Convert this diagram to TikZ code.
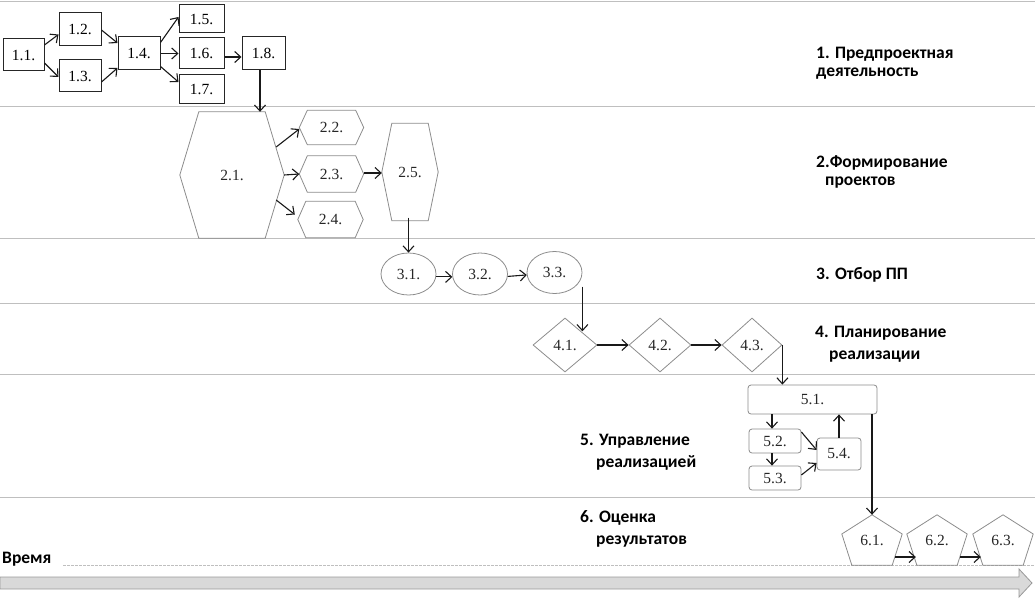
\documentclass[tikz,border=0pt]{standalone}
\usepackage{fontspec}
\setmainfont{Liberation Serif}
\newfontfamily\labfont{Carlito}
\usetikzlibrary{shapes.geometric,arrows.meta,calc}
\newcommand\hexout[2]{\draw[shpline] (#1.west) -- ([xshift=#2]#1.north west) -- ([xshift=-#2]#1.north east) -- (#1.east) -- ([xshift=-#2]#1.south east) -- ([xshift=#2]#1.south west) -- cycle;}
\newcommand\pentout[1]{\draw[shpline] (#1.north) -- ([yshift=6pt]#1.east) -- ([xshift=-10pt]#1.south east) -- ([xshift=10pt]#1.south west) -- ([yshift=6pt]#1.west) -- cycle;}
\begin{document}
\begin{tikzpicture}[x=1pt,y=-1pt,
  font=\fontsize{15.5}{17}\selectfont,
  arr/.style={draw=black!90, line width=1.1pt, -{Straight Barb[length=6pt,width=11pt]}},
  sepline/.style={draw=black!25, line width=0.8pt},
  shpline/.style={draw=black!45, line width=0.8pt},
  boxA/.style={draw=black!85, line width=1pt, inner sep=0pt, text=black},
  hexa/.style={inner sep=0pt, text=black!85},
  ell/.style={ellipse, shpline, inner sep=0pt, minimum width=55pt, minimum height=42pt, text=black!85},
  dia/.style={diamond, shpline, inner sep=0pt, minimum width=62pt, minimum height=54pt, text=black!85},
  rbox/.style={rectangle, rounded corners=3pt, shpline, inner sep=0pt, text=black!85},
  pent/.style={inner sep=0pt, minimum width=60pt, minimum height=50pt, text=black!85},
  lab/.style={font=\labfont\bfseries\fontsize{17.5}{20}\selectfont, anchor=base west, inner sep=0pt, text=black}]
\useasboundingbox (0,0) rectangle (1035,599);

% separators
\draw[sepline] (0,1) -- (1035,1);
\draw[sepline] (0,106) -- (1035,106);
\draw[sepline] (0,238) -- (1035,238);
\draw[sepline] (0,303) -- (1035,303);
\draw[sepline] (0,374) -- (1035,374);
\draw[sepline] (0,497) -- (1035,497);
\draw[sepline, dashed, dash pattern=on 3pt off 1pt, line width=0.6pt] (63,565) -- (1035,565);

% time arrow
\draw[draw=black!40, fill=black!15, line width=0.8pt] (0,577) -- (1019,577) -- (1019,569) -- (1032,583) -- (1019,597) -- (1019,589) -- (0,589) -- cycle;

% lane labels
\node[lab] (L1a) at (816,59) {1. Предпроектная};
\node[lab] (L1b) at (816,77) {деятельность};
\node[lab] (L2a) at (816,167) {2.Формирование};
\node[lab] (L2b) at (825,185) {проектов};
\node[lab] (L3) at (816,279) {3. Отбор ПП};
\node[lab] (L4a) at (815,337) {4. Планирование};
\node[lab] (L4b) at (829,359) {реализации};
\node[lab] (L5a) at (580,445) {5. Управление};
\node[lab] (L5b) at (596,467) {реализацией};
\node[lab] (L6a) at (580,522) {6. Оценка};
\node[lab] (L6b) at (596,544) {результатов};
\node[lab] (LT) at (2,563) {Время};

% row 1
\node[boxA, minimum width=41pt, minimum height=32pt] (n11) at (23.5,55) {1.1.};
\node[boxA, minimum width=42pt, minimum height=33pt] (n12) at (80,29.5) {1.2.};
\node[boxA, minimum width=42pt, minimum height=32pt] (n13) at (80,76) {1.3.};
\node[boxA, minimum width=42pt, minimum height=33pt] (n14) at (139,53.5) {1.4.};
\node[boxA, minimum width=45pt, minimum height=28pt] (n15) at (201.5,19) {1.5.};
\node[boxA, minimum width=45pt, minimum height=31pt] (n16) at (201.5,53.5) {1.6.};
\node[boxA, minimum width=45pt, minimum height=29pt] (n17) at (201.5,89.5) {1.7.};
\node[boxA, minimum width=43pt, minimum height=33pt] (n18) at (263.5,53.5) {1.8.};

% row 2
\node[hexa, minimum width=104pt, minimum height=126pt] (n21) at (232,175) {2.1.};
\node[hexa, minimum width=64pt, minimum height=34pt] (n22) at (331.5,127.5) {2.2.};
\node[hexa, minimum width=64pt, minimum height=36pt] (n23) at (331.5,174) {2.3.};
\node[hexa, minimum width=65pt, minimum height=36pt] (n24) at (330.5,219.5) {2.4.};
\node[hexa, minimum width=56pt, minimum height=97pt] (n25) at (410,172) {2.5.};
\hexout{n21}{19pt}
\hexout{n22}{8pt}
\hexout{n23}{8pt}
\hexout{n24}{8pt}
\hexout{n25}{10pt}

% row 3
\node[ell] (n31) at (408.5,274) {3.1.};
\node[ell] (n32) at (480,274) {3.2.};
\node[ell] (n33) at (554.5,272.5) {3.3.};

% row 4
\node[dia, minimum width=64pt] (n41) at (565,345) {4.1.};
\node[dia] (n42) at (660,345) {4.2.};
\node[dia, minimum width=60pt] (n43) at (752,345) {4.3.};

% row 5
\node[rbox, minimum width=129pt, minimum height=29pt] (n51) at (812.5,399.5) {5.1.};
\node[rbox, minimum width=52pt, minimum height=24pt] (n52) at (775,441) {5.2.};
\node[rbox, minimum width=52pt, minimum height=24pt] (n53) at (775,478) {5.3.};
\node[rbox, minimum width=44pt, minimum height=32pt] (n54) at (839,454) {5.4.};

% row 6
\node[pent] (n61) at (872,540) {6.1.};
\node[pent] (n62) at (937,540) {6.2.};
\node[pent] (n63) at (1003,540) {6.3.};
\pentout{n61}
\pentout{n62}
\pentout{n63}

% connectors row 1
\draw[arr] ([yshift=10pt]n11.east) -- ([yshift=-5pt]n12.west);
\draw[arr] ([yshift=-8pt]n11.east) -- ([yshift=-1pt]n13.west);
\draw[arr] ([yshift=-0.5pt]n12.east) -- ([yshift=10.5pt]n14.west);
\draw[arr] ([yshift=-6pt]n13.east) -- ([yshift=-14.5pt]n14.west);
\draw[arr] ([yshift=11pt]n14.east) -- ([yshift=2pt]n15.west);
\draw[arr] (n14.east) -- (n16.west);
\draw[arr] ([yshift=-13pt]n14.east) -- ([yshift=7.5pt]n17.west);
\draw[arr] ([yshift=-3.5pt]n16.east) -- ([yshift=-3.5pt]n18.west);
\draw[arr] ([xshift=-3.5pt]n18.south) -- ([xshift=-3.5pt]n18.south |- n21.north);

% connectors row 2
\draw[arr] ([xshift=-8pt,yshift=28pt]n21.east) -- ([yshift=-1.5pt]n22.west);
\draw[arr] (n21.east) -- (n23.west);
\draw[arr] ([xshift=-8pt,yshift=-25pt]n21.east) -- ([xshift=-3pt,yshift=5pt]n24.west);
\draw[arr] ([yshift=1pt]n23.east) -- ([yshift=1pt]n23.east -| n25.west);
\draw[arr] ([yshift=3pt]n25.south -| n31.north) -- (n31.north);

% connectors row 3
\draw[arr] (n31.-6) -- (n32.186);
\draw[arr] (n32.-5) -- (n33.185);
\draw[arr] ([yshift=-14pt]n33.east) -- (n33.east |- n41.north east);

% connectors row 4
\draw[arr] (n41.east) -- (n42.west);
\draw[arr] (n42.east) -- (n43.west);
\draw[arr] (n43.east) -- (n43.east |- n51.north);

% connectors row 5
\draw[arr] ([xshift=-3pt]n52.north |- n51.south) -- ([xshift=-3pt]n52.north);
\draw[arr] ([xshift=-3pt]n52.south) -- ([xshift=-3pt]n53.north);
\draw[arr] ([yshift=9pt]n52.east) -- ([yshift=4pt]n54.west);
\draw[arr] ([yshift=3pt]n53.east) -- ([yshift=-9pt]n54.west);
\draw[arr] (n54.north) -- (n54.north |- n51.south);
\draw[arr] (n61.north |- n51.south) -- (n61.north);

% connectors row 6
\draw[arr] ([xshift=-7pt,yshift=-17pt]n61.east) -- ([xshift=9pt,yshift=-17pt]n62.west);
\draw[arr] ([xshift=-7pt,yshift=-17pt]n62.east) -- ([xshift=8pt,yshift=-17pt]n63.west);
\end{tikzpicture}
\end{document}
